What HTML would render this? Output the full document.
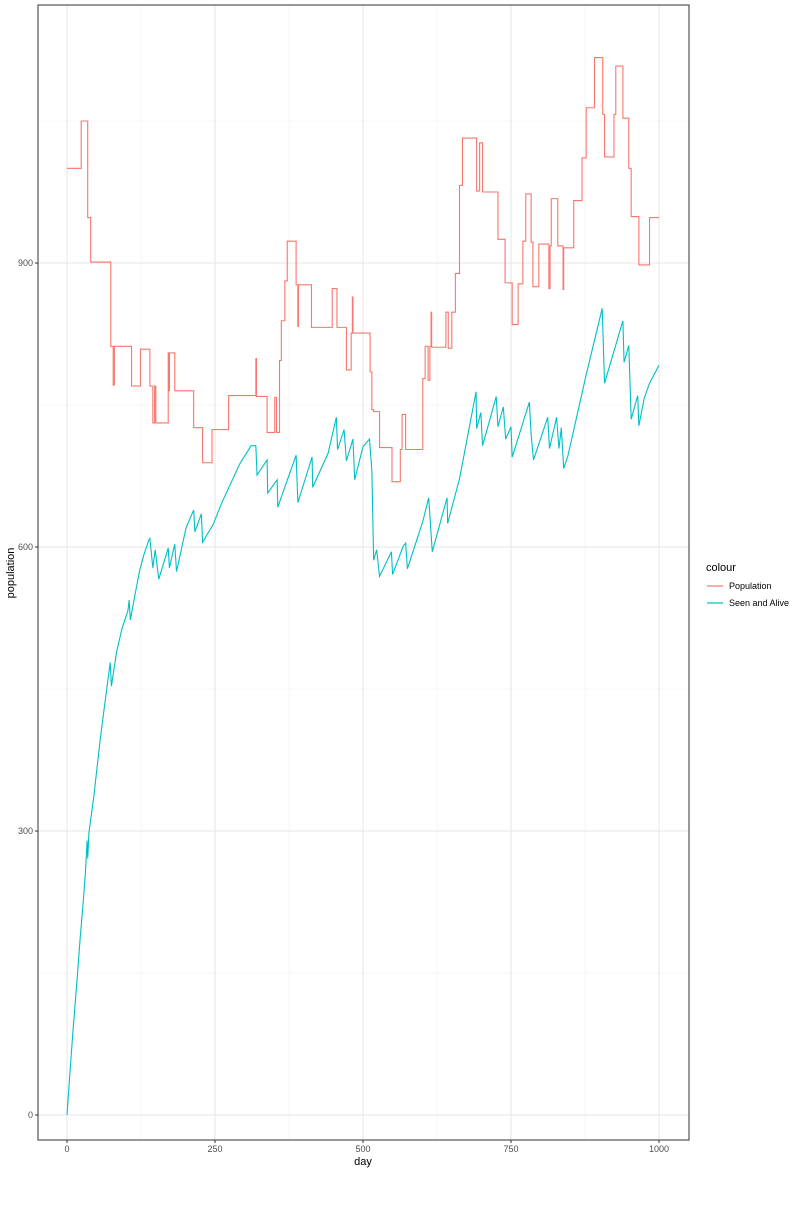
<!DOCTYPE html>
<html><head><meta charset="utf-8"><style>
body{margin:0;background:#fff;font-family:"Liberation Sans",sans-serif}
</style></head><body>
<svg id="chart" width="800" height="1200" xmlns="http://www.w3.org/2000/svg"></svg>
<script>
const popDays=[0,24,35,40,74,78,80,109,124,140,145,148,150,171,172,173,182,214,229,245,273,319,320,338,351,354,359,362,368,372,387,390,391,413,448,456,472,480,482,483,512,515,518,528,549,563,566,572,601,605,610,613,615,616,640,644,650,656,663,668,692,697,702,728,740,752,762,770,775,784,787,797,814,816,818,829,838,839,856,870,877,891,905,908,924,927,939,949,953,966,984];
const popVals=[1000,1050,948,901,812,771,812,770,809,770,731,770,731,805,765,805,765,726,689,724,760,799,759,721,758,721,797,839,881,923,877,833,877,832,873,832,787,826,864,826,785,745,743,705,669,703,740,703,778,812,776,812,848,811,848,810,848,889,982,1032,976,1027,975,925,879,835,878,923,973,922,875,920,873,918,968,918,872,916,966,1011,1064,1117,1057,1012,1057,1108,1053,1000,949,898,948];
const seenDays=[0,5,10,17,22,27,31,34,35,37,45,56,65,73,75,84,93,103,105,107,115,123,130,138,140,145,149,155,171,173,182,185,201,214,216,227,229,247,261,292,311,319,321,338,339,355,356,387,390,414,415,441,455,457,468,472,483,486,500,511,515,518,523,528,548,550,568,572,575,601,611,617,642,643,663,691,692,699,702,725,728,737,741,750,752,781,784,788,812,815,827,831,835,839,846,877,904,908,924,939,941,949,953,964,966,975,984,1000];
const seenVals=[0,45,88,143,185,222,255,290,271,298,335,396,440,478,453,490,514,533,544,523,550,576,592,607,609,578,597,566,599,578,603,574,620,639,616,635,605,624,646,688,707,707,676,692,657,671,642,697,647,695,663,699,737,703,724,691,714,671,706,714,680,586,597,569,595,571,601,604,577,627,652,595,652,625,672,764,725,742,707,759,727,748,714,727,695,753,719,692,737,704,737,704,726,683,696,782,852,773,807,839,795,813,735,760,728,757,773,792];
const yTicks=[0,300,600,900];
const xTicks=[0,250,500,750,1000];
const yMinor=[150,450,750,1050];
const xMinor=[125,375,625,875];
const dayMax=1000;

const svg=document.getElementById('chart');
const NS='http://www.w3.org/2000/svg';
const L=38,R=689,T=5,B=1140;
const xs=d=>67+d*0.592;
const ys=v=>1115-v*0.94667;
function mk(tag,attrs,parent){const e=document.createElementNS(NS,tag);for(const k in attrs)e.setAttribute(k,attrs[k]);(parent||svg).appendChild(e);return e;}

const grid=mk('g',{});


yMinor.forEach(v=>mk('line',{x1:L,x2:R,y1:ys(v),y2:ys(v),stroke:'#f0f0f0','stroke-width':0.6},grid));
xMinor.forEach(d=>mk('line',{x1:xs(d),x2:xs(d),y1:T,y2:B,stroke:'#f0f0f0','stroke-width':0.6},grid));
yTicks.forEach(v=>mk('line',{x1:L,x2:R,y1:ys(v),y2:ys(v),stroke:'#e5e5e5','stroke-width':1},grid));
xTicks.forEach(d=>mk('line',{x1:xs(d),x2:xs(d),y1:T,y2:B,stroke:'#e5e5e5','stroke-width':1},grid));

function stepPath(ds,vs){let p='M'+xs(ds[0])+','+ys(vs[0]);for(let i=1;i<ds.length;i++){p+='H'+xs(ds[i])+'V'+ys(vs[i]);}p+='H'+xs(dayMax);return p;}
function linePath(ds,vs){return ds.map((d,i)=>(i?'L':'M')+xs(d)+','+ys(vs[i])).join('');}
const p1=mk('path',{d:stepPath(popDays,popVals),fill:'none',stroke:'#F8766D','stroke-width':1.1});


const p2=mk('path',{d:linePath(seenDays,seenVals),fill:'none',stroke:'#00BFC4','stroke-width':1.1});



const border=mk('rect',{x:L,y:T,width:R-L,height:B-T,fill:'none',stroke:'#333','stroke-width':1});



yTicks.forEach(v=>{
  mk('line',{x1:L-3,x2:L,y1:ys(v),y2:ys(v),stroke:'#333'});
  const t=mk('text',{x:L-5,y:ys(v)+3,'text-anchor':'end','font-size':9,fill:'#4d4d4d'});
  t.textContent=v;
  
  
});
xTicks.forEach(d=>{
  mk('line',{x1:xs(d),x2:xs(d),y1:B,y2:B+3,stroke:'#333'});
  const t=mk('text',{x:xs(d),y:B+12,'text-anchor':'middle','font-size':9,fill:'#4d4d4d'});
  t.textContent=d;
  
  
});
const xt=mk('text',{x:363,y:1165,'text-anchor':'middle','font-size':11,fill:'#000'});
xt.textContent='day';


const yt=mk('text',{x:14,y:573,'text-anchor':'middle','font-size':11,fill:'#000',transform:'rotate(-90 14 573)'});
yt.textContent='population';



const lg=mk('g',{});


const lt=mk('text',{x:706,y:571,'font-size':11,fill:'#000'},lg);
lt.textContent='colour';


[['Population','#F8766D',586],['Seen and Alive','#00BFC4',603]].forEach(([n,c,y])=>{
  mk('line',{x1:707,x2:723,y1:y,y2:y,stroke:c,'stroke-width':1.2},lg);
  const t=mk('text',{x:729,y:y+3,'font-size':9,fill:'#000'},lg);
  t.textContent=n;
  
  
});
</script>
</body></html>
